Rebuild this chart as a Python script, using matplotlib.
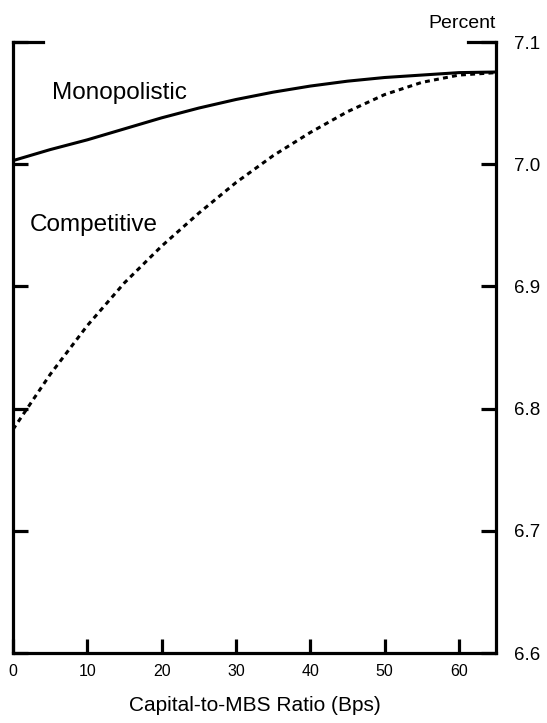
import matplotlib.pyplot as plt

plt.rcParams['font.family'] = ['Liberation Sans', 'DejaVu Sans']

ratio = [0, 5, 10, 15, 20, 25, 30, 35, 40, 45, 50, 55, 60, 65]
monopolistic = [7.003, 7.012, 7.020, 7.029, 7.038, 7.046, 7.053, 7.059,
                7.064, 7.068, 7.071, 7.073, 7.075, 7.0755]
competitive = [6.783, 6.828, 6.868, 6.903, 6.933, 6.960, 6.985, 7.007,
               7.026, 7.043, 7.057, 7.067, 7.073, 7.075]
xticks = [0, 10, 20, 30, 40, 50, 60]
yticks = [6.6, 6.7, 6.8, 6.9, 7.0, 7.1]

fig = plt.figure(figsize=(5.47, 7.23), dpi=100)
ax = fig.add_axes([0.0238, 0.0968, 0.883, 0.845])

ax.plot(ratio, monopolistic, color='black', lw=2.2, solid_capstyle='butt')
ax.plot(ratio, competitive, color='black', lw=2.2, linestyle=(0, (1.6, 1.4)))

ax.set_xlim(0, 65)
ax.set_ylim(6.6, 7.1)
ax.set_xticks(xticks)
ax.set_yticks(yticks)
ax.set_yticklabels(['6.6', '6.7', '6.8', '6.9', '7.0', '7.1'])

ax.spines['top'].set_visible(False)
for s in ['left', 'right', 'bottom']:
    ax.spines[s].set_linewidth(2.3)

ax.tick_params(axis='x', direction='in', length=10, width=2.3, labelsize=11.5, pad=8)
ax.tick_params(axis='y', direction='in', length=11, width=2.3, labelsize=13.5,
               left=True, right=True, labelleft=False, labelright=True, pad=13)

# longer ticks at the top, in place of a top border
ax.axhline(7.1, xmin=0, xmax=30 / 483, color='black', lw=2.3, clip_on=False)
ax.axhline(7.1, xmin=1 - 28 / 483, xmax=1, color='black', lw=2.3, clip_on=False)

ax.text(5.2, 7.058, 'Monopolistic', fontsize=17.5, va='center', ha='left')
ax.text(2.3, 6.95, 'Competitive', fontsize=17.5, va='center', ha='left')
ax.text(1.0, 1.023, 'Percent', transform=ax.transAxes, fontsize=14,
        ha='right', va='baseline')
ax.set_xlabel('Capital-to-MBS Ratio (Bps)', fontsize=15, labelpad=12)

fig.savefig('out.png', dpi=100)
